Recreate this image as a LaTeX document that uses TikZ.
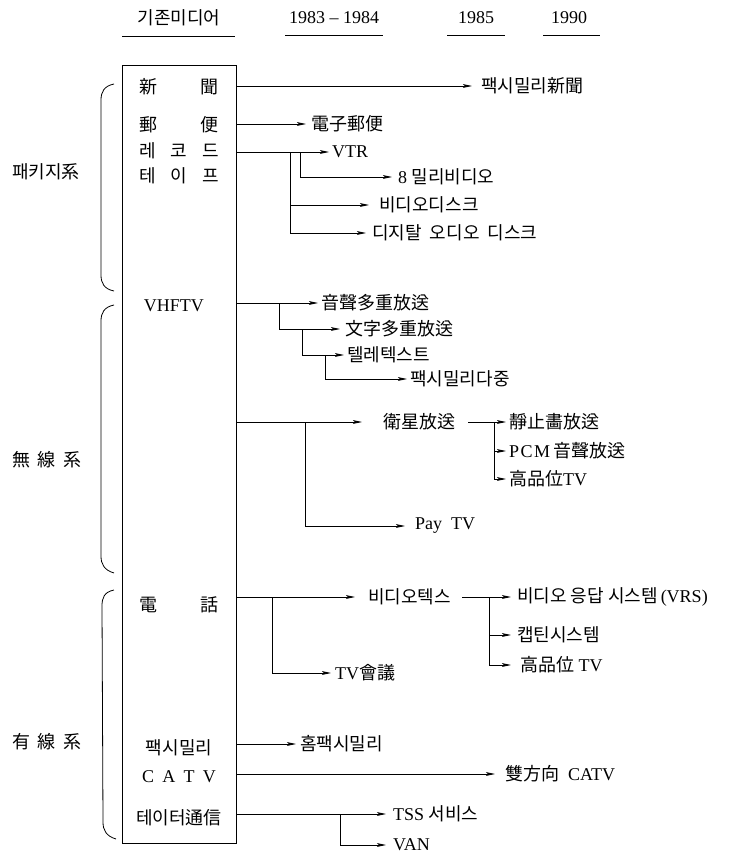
\documentclass[tikz,border=0pt]{standalone}
\usepackage{fontspec}
\setmainfont{Liberation Serif}
\newfontfamily\kr{Noto Sans CJK KR}
\usetikzlibrary{arrows.meta}
\newcommand\K[1]{{\kr #1}}
\begin{document}
\begin{tikzpicture}[x=1pt,y=-1pt,
  txt/.style={anchor=west, inner sep=1pt, font=\fontsize{18}{20}\selectfont},
  ctr/.style={anchor=center, inner sep=1pt, font=\fontsize{18}{20}\selectfont},
  link/.style={line width=0.8pt},
  arr/.style={link, -{Stealth[length=9pt,width=3.8pt,inset=2pt]}, shorten >=2pt},
  gapped/.style={shorten >=#1},
  bracestyle/.style={line width=0.8pt},
  uline/.style={line width=0.9pt},
]
\useasboundingbox (0,0) rectangle (745,854);

% header
\node[ctr] (h1) at (179,18) {\K{기존미디어}};
\node[ctr] (h2) at (334,18) {1983 -- 1984};
\node[ctr] (h3) at (476,18) {1985};
\node[ctr] (h4) at (569,18) {1990};
\draw[uline] (122,36) -- (235,36);
\draw[uline] (285,35) -- (383,35);
\draw[uline] (447,35) -- (505,35);
\draw[uline] (543,35) -- (600,35);

% box
\node[draw, line width=0.8pt, minimum width=114pt, minimum height=778pt, inner sep=0pt, anchor=north west] (box) at (122,65) {};

% braces and labels
\draw[bracestyle] (114,84) .. controls (104,86) and (101,92) .. (101,100) -- (101,275) .. controls (101,283) and (104,289) .. (114,291);
\draw[bracestyle] (114,305) .. controls (104,307) and (101,313) .. (101,321) -- (101,556) .. controls (101,564) and (104,570) .. (114,573);
\draw[bracestyle] (114,590) .. controls (104,592) and (102,598) .. (102,606) -- (103,822) .. controls (103,830) and (106,836) .. (116,839);
\node[ctr] (g1) at (46,172) {\K{패키지系}};
\node[ctr] (g2) at (47,460) {\K{無\hspace{0.4em}線\hspace{0.4em}系}};
\node[ctr] (g3) at (47,742) {\K{有\hspace{0.4em}線\hspace{0.4em}系}};

% box rows
\node[ctr] (r1) at (179,87) {\makebox[80pt][s]{\K{新}\hfill\K{聞}}};
\node[ctr] (r2) at (179,125) {\makebox[80pt][s]{\K{郵}\hfill\K{便}}};
\node[ctr] (r3) at (179,151) {\makebox[80pt][s]{\K{레}\hfill\K{코}\hfill\K{드}}};
\node[ctr] (r4) at (179,176) {\makebox[80pt][s]{\K{테}\hfill\K{이}\hfill\K{프}}};
\node[ctr] (r5) at (174,306) {VHFTV};
\node[ctr] (r6) at (179,605) {\makebox[80pt][s]{\K{電}\hfill\K{話}}};
\node[ctr] (r7) at (179,748) {\K{팩시밀리}};
\node[ctr] (r8) at (179,777) {\makebox[74pt][s]{C\hfill A\hfill T\hfill V}};
\node[ctr] (r9) at (179,818) {\K{테이터通信}};

% targets: package
\node[txt] (o1) at (480,86) {\K{팩시밀리新聞}};
\node[txt] (o2) at (310,124) {\K{電子郵便}};
\node[txt] (o3) at (331,152) {VTR};
\node[txt] (o4) at (397,177) {8 \K{밀리비디오}};
\node[txt] (o5) at (378,205) {\K{비디오디스크}};
\node[txt] (o6) at (371,233) {\K{디지탈\hspace{0.45em}오디오\hspace{0.45em}디스크}};
\draw[arr, gapped=8pt] (box.east |- o1.west) -- (o1.west);
\draw[arr, gapped=4pt] (box.east |- o2.west) -- (o2.west);
\draw[arr] (box.east |- o3.west) -- (o3.west);
\coordinate (ja) at (300,152);
\coordinate (jb) at (290,152);
\draw[arr, gapped=5pt] (ja) |- (o4.west);
\draw[link] (jb) -- (jb |- o6.west);
\draw[arr, gapped=9pt] (jb) |- (o5.west);
\draw[arr, gapped=5pt] (jb) |- (o6.west);

% targets: wireless
\node[txt] (v1) at (320,303) {\K{音聲多重放送}};
\node[txt] (v2) at (344,329) {\K{文字多重放送}};
\node[txt] (v3) at (346,355) {\K{텔레텍스트}};
\node[txt] (v4) at (409,379) {\K{팩시밀리다중}};
\draw[arr] (box.east |- v1.west) -- (v1.west);
\coordinate (jc) at (279,303);
\coordinate (jd) at (302,329);
\coordinate (je) at (325,355);
\draw[arr, gapped=4pt] (jc) |- (v2.west);
\draw[arr] (jd) |- (v3.west);
\draw[arr] (je) |- (v4.west);

\node[txt] (sat) at (382,422) {\K{衛星放送}};
\node[txt] (s1) at (508,422) {\K{靜止畵放送}};
\node[txt] (s2) at (508,451) {P\kern1.5pt C\kern1.5pt M\kern3pt\K{音聲放送}};
\node[txt] (s3) at (508,479) {\K{高品位}TV};
\node[txt] (pay) at (414,526) {Pay\ \ TV};
\draw[arr, gapped=20pt] (box.east |- sat.west) -- (sat.west);
\coordinate (jf) at (305,422);
\draw[arr, gapped=9pt] (jf) |- (pay.west);
\coordinate (jg) at (494,422);
\draw[link] ([xshift=12pt]sat.east) -- (jg);
\draw[arr] (jg) -- (s1.west);
\draw[arr] (jg) |- (s2.west);
\draw[arr] (jg) |- (s3.west);

% targets: wired
\node[txt] (vtx) at (367,597) {\K{비디오텍스}};
\node[txt] (c1) at (516,597) {\K{비디오 응답 시스템}\,(VRS)};
\node[txt] (c2) at (516,635) {\K{캡틴시스템}};
\node[txt] (c3) at (519,665) {\K{高品位}\ TV};
\node[txt] (tvc) at (334,673) {TV\K{會議}};
\draw[arr, gapped=12pt] (box.east |- vtx.west) -- (vtx.west);
\coordinate (jh) at (272,597);
\draw[arr, gapped=3pt] (jh) |- (tvc.west);
\coordinate (ji) at (489,597);
\draw[link] ([xshift=10pt]vtx.east) -- (ji);
\draw[arr, gapped=5pt] (ji) -- (c1.west);
\draw[arr, gapped=5pt] (ji) |- (c2.west);
\draw[arr, gapped=8pt] (ji) |- (c3.west);

\node[txt] (hf) at (299,744) {\K{홈팩시밀리}};
\node[txt] (catv) at (504,774) {\K{雙方向}\ \ CATV};
\node[txt] (tss) at (392,814) {TSS \K{서비스}};
\node[txt] (van) at (392,845) {VAN};
\draw[arr, gapped=3pt] (box.east |- hf.west) -- (hf.west);
\draw[arr, gapped=9pt] (box.east |- catv.west) -- (catv.west);
\draw[arr, gapped=6pt] (box.east |- tss.west) -- (tss.west);
\coordinate (jj) at (340,814);
\draw[arr, gapped=6pt] (jj) |- (van.west);
\end{tikzpicture}
\end{document}
